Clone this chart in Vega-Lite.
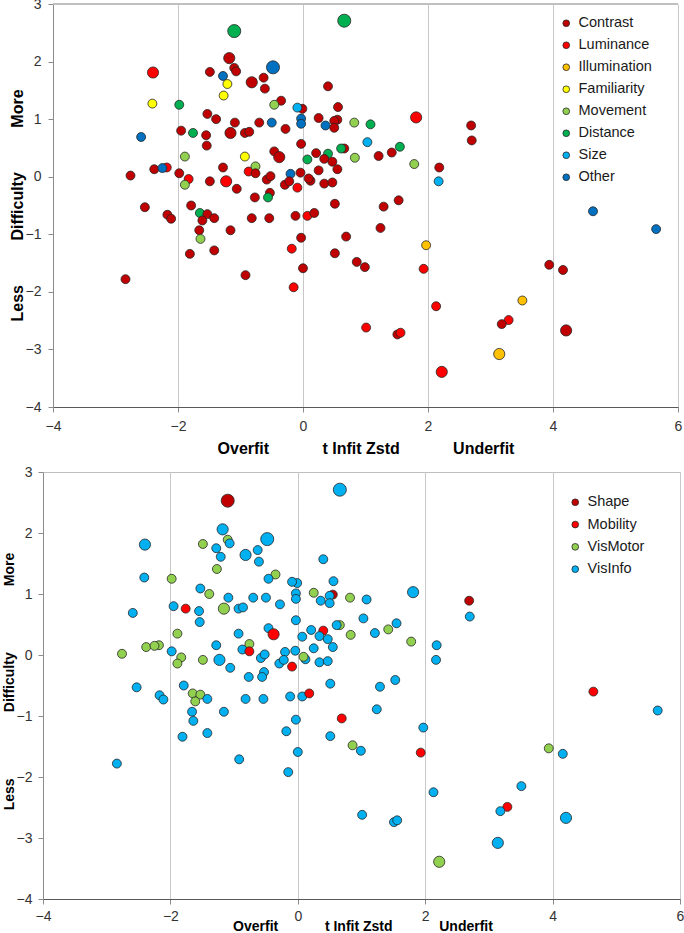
{
  "$schema": "https://vega.github.io/schema/vega-lite/v6.json",
  "padding": {"left": 1, "top": -3, "right": 0, "bottom": 0},
  "spacing": 8,
  "config": {
    "font": "Liberation Sans",
    "view": {"stroke": "#bfbfbf", "strokeWidth": 1},
    "axis": {"labelColor": "#333333", "titleColor": "#000000", "tickColor": "#8c8c8c", "domainColor": "#8c8c8c", "labelFont": "Liberation Sans", "titleFont": "Liberation Sans"}
  },
  "data": {"values": [
    {"infit": -1.10, "difficulty": 2.53, "weight": 3, "cat1": "Distance", "cat2": "Shape"},
    {"infit": 0.66, "difficulty": 2.71, "weight": 3, "cat1": "Distance", "cat2": "VisInfo"},
    {"infit": -2.40, "difficulty": 1.81, "weight": 2, "cat1": "Luminance", "cat2": "VisInfo"},
    {"infit": -1.18, "difficulty": 2.06, "weight": 2, "cat1": "Contrast", "cat2": "VisInfo"},
    {"infit": -1.10, "difficulty": 1.89, "weight": 1, "cat1": "Contrast", "cat2": "VisMotor"},
    {"infit": -1.07, "difficulty": 1.83, "weight": 1, "cat1": "Contrast", "cat2": "VisInfo"},
    {"infit": -1.49, "difficulty": 1.82, "weight": 1, "cat1": "Contrast", "cat2": "VisMotor"},
    {"infit": -1.28, "difficulty": 1.75, "weight": 1, "cat1": "Other", "cat2": "VisInfo"},
    {"infit": -1.21, "difficulty": 1.61, "weight": 1, "cat1": "Familiarity", "cat2": "VisInfo"},
    {"infit": -1.27, "difficulty": 1.41, "weight": 1, "cat1": "Familiarity", "cat2": "VisMotor"},
    {"infit": -2.41, "difficulty": 1.27, "weight": 1, "cat1": "Familiarity", "cat2": "VisInfo"},
    {"infit": -1.98, "difficulty": 1.25, "weight": 1, "cat1": "Distance", "cat2": "VisMotor"},
    {"infit": -0.48, "difficulty": 1.90, "weight": 3, "cat1": "Other", "cat2": "VisInfo"},
    {"infit": -0.82, "difficulty": 1.64, "weight": 2, "cat1": "Contrast", "cat2": "VisInfo"},
    {"infit": -0.63, "difficulty": 1.72, "weight": 1, "cat1": "Contrast", "cat2": "VisInfo"},
    {"infit": -0.61, "difficulty": 1.53, "weight": 1, "cat1": "Contrast", "cat2": "VisInfo"},
    {"infit": -0.35, "difficulty": 1.32, "weight": 1, "cat1": "Contrast", "cat2": "VisMotor"},
    {"infit": -0.46, "difficulty": 1.25, "weight": 1, "cat1": "Movement", "cat2": "VisInfo"},
    {"infit": -0.01, "difficulty": 1.18, "weight": 1, "cat1": "Contrast", "cat2": "VisInfo"},
    {"infit": -0.09, "difficulty": 1.20, "weight": 1, "cat1": "Size", "cat2": "VisInfo"},
    {"infit": -0.03, "difficulty": 1.01, "weight": 1, "cat1": "Other", "cat2": "VisInfo"},
    {"infit": -0.03, "difficulty": 0.92, "weight": 1, "cat1": "Other", "cat2": "VisInfo"},
    {"infit": 0.40, "difficulty": 1.57, "weight": 1, "cat1": "Contrast", "cat2": "VisInfo"},
    {"infit": 0.25, "difficulty": 1.02, "weight": 1, "cat1": "Contrast", "cat2": "VisMotor"},
    {"infit": 0.56, "difficulty": 1.21, "weight": 1, "cat1": "Contrast", "cat2": "VisInfo"},
    {"infit": 0.55, "difficulty": 0.99, "weight": 1, "cat1": "Contrast", "cat2": "Shape"},
    {"infit": 0.50, "difficulty": 0.97, "weight": 1, "cat1": "Contrast", "cat2": "VisInfo"},
    {"infit": 0.36, "difficulty": 0.89, "weight": 1, "cat1": "Other", "cat2": "VisInfo"},
    {"infit": 0.50, "difficulty": 0.85, "weight": 1, "cat1": "Contrast", "cat2": "VisInfo"},
    {"infit": -1.53, "difficulty": 1.09, "weight": 1, "cat1": "Contrast", "cat2": "VisInfo"},
    {"infit": -1.39, "difficulty": 1.00, "weight": 1, "cat1": "Contrast", "cat2": "VisMotor"},
    {"infit": -1.09, "difficulty": 0.94, "weight": 1, "cat1": "Contrast", "cat2": "VisInfo"},
    {"infit": -1.16, "difficulty": 0.76, "weight": 2, "cat1": "Contrast", "cat2": "VisMotor"},
    {"infit": -0.93, "difficulty": 0.76, "weight": 1, "cat1": "Contrast", "cat2": "VisInfo"},
    {"infit": -0.86, "difficulty": 0.78, "weight": 1, "cat1": "Contrast", "cat2": "VisInfo"},
    {"infit": -0.70, "difficulty": 0.94, "weight": 1, "cat1": "Contrast", "cat2": "VisInfo"},
    {"infit": -0.50, "difficulty": 0.94, "weight": 1, "cat1": "Other", "cat2": "VisInfo"},
    {"infit": -0.28, "difficulty": 0.83, "weight": 1, "cat1": "Contrast", "cat2": "VisInfo"},
    {"infit": -2.59, "difficulty": 0.69, "weight": 1, "cat1": "Other", "cat2": "VisInfo"},
    {"infit": -1.95, "difficulty": 0.80, "weight": 1, "cat1": "Contrast", "cat2": "VisInfo"},
    {"infit": -1.76, "difficulty": 0.76, "weight": 1, "cat1": "Distance", "cat2": "Mobility"},
    {"infit": -1.55, "difficulty": 0.72, "weight": 1, "cat1": "Contrast", "cat2": "VisInfo"},
    {"infit": -1.54, "difficulty": 0.54, "weight": 1, "cat1": "Contrast", "cat2": "VisInfo"},
    {"infit": -0.03, "difficulty": 0.57, "weight": 1, "cat1": "Contrast", "cat2": "VisInfo"},
    {"infit": -1.89, "difficulty": 0.35, "weight": 1, "cat1": "Movement", "cat2": "VisMotor"},
    {"infit": -0.93, "difficulty": 0.35, "weight": 1, "cat1": "Familiarity", "cat2": "VisInfo"},
    {"infit": -0.46, "difficulty": 0.44, "weight": 1, "cat1": "Contrast", "cat2": "VisInfo"},
    {"infit": -0.38, "difficulty": 0.34, "weight": 2, "cat1": "Contrast", "cat2": "Mobility"},
    {"infit": 0.07, "difficulty": 0.30, "weight": 1, "cat1": "Distance", "cat2": "VisInfo"},
    {"infit": 0.21, "difficulty": 0.41, "weight": 1, "cat1": "Contrast", "cat2": "VisInfo"},
    {"infit": 0.40, "difficulty": 0.40, "weight": 1, "cat1": "Distance", "cat2": "Mobility"},
    {"infit": 0.34, "difficulty": 0.31, "weight": 1, "cat1": "Contrast", "cat2": "VisInfo"},
    {"infit": 0.47, "difficulty": 0.26, "weight": 1, "cat1": "Contrast", "cat2": "VisInfo"},
    {"infit": 0.66, "difficulty": 0.49, "weight": 1, "cat1": "Contrast", "cat2": "VisMotor"},
    {"infit": 0.61, "difficulty": 0.49, "weight": 1, "cat1": "Distance", "cat2": "VisInfo"},
    {"infit": -2.38, "difficulty": 0.13, "weight": 1, "cat1": "Contrast", "cat2": "VisMotor"},
    {"infit": -2.18, "difficulty": 0.16, "weight": 1, "cat1": "Luminance", "cat2": "VisMotor"},
    {"infit": -2.25, "difficulty": 0.15, "weight": 1, "cat1": "Other", "cat2": "VisMotor"},
    {"infit": -2.76, "difficulty": 0.02, "weight": 1, "cat1": "Contrast", "cat2": "VisMotor"},
    {"infit": -1.98, "difficulty": 0.06, "weight": 1, "cat1": "Contrast", "cat2": "VisInfo"},
    {"infit": -1.83, "difficulty": -0.04, "weight": 1, "cat1": "Luminance", "cat2": "VisMotor"},
    {"infit": -1.89, "difficulty": -0.14, "weight": 1, "cat1": "Movement", "cat2": "VisMotor"},
    {"infit": -1.49, "difficulty": -0.08, "weight": 1, "cat1": "Contrast", "cat2": "VisMotor"},
    {"infit": -1.28, "difficulty": 0.16, "weight": 1, "cat1": "Contrast", "cat2": "VisInfo"},
    {"infit": -1.23, "difficulty": -0.08, "weight": 2, "cat1": "Luminance", "cat2": "VisInfo"},
    {"infit": -1.06, "difficulty": -0.21, "weight": 1, "cat1": "Contrast", "cat2": "VisInfo"},
    {"infit": -0.87, "difficulty": 0.09, "weight": 1, "cat1": "Luminance", "cat2": "VisInfo"},
    {"infit": -0.76, "difficulty": 0.18, "weight": 1, "cat1": "Movement", "cat2": "VisMotor"},
    {"infit": -0.76, "difficulty": 0.06, "weight": 1, "cat1": "Contrast", "cat2": "Mobility"},
    {"infit": -0.58, "difficulty": -0.05, "weight": 1, "cat1": "Contrast", "cat2": "VisInfo"},
    {"infit": -0.52, "difficulty": 0.01, "weight": 1, "cat1": "Contrast", "cat2": "VisInfo"},
    {"infit": -0.77, "difficulty": -0.36, "weight": 1, "cat1": "Contrast", "cat2": "VisInfo"},
    {"infit": -0.53, "difficulty": -0.28, "weight": 1, "cat1": "Contrast", "cat2": "VisInfo"},
    {"infit": -0.56, "difficulty": -0.36, "weight": 1, "cat1": "Distance", "cat2": "VisInfo"},
    {"infit": -0.20, "difficulty": 0.05, "weight": 1, "cat1": "Other", "cat2": "VisInfo"},
    {"infit": -0.29, "difficulty": -0.14, "weight": 1, "cat1": "Contrast", "cat2": "VisInfo"},
    {"infit": -0.22, "difficulty": -0.08, "weight": 1, "cat1": "Contrast", "cat2": "VisInfo"},
    {"infit": -0.09, "difficulty": -0.19, "weight": 1, "cat1": "Luminance", "cat2": "Mobility"},
    {"infit": -0.04, "difficulty": 0.07, "weight": 1, "cat1": "Contrast", "cat2": "VisInfo"},
    {"infit": 0.12, "difficulty": -0.07, "weight": 1, "cat1": "Contrast", "cat2": "VisInfo"},
    {"infit": 0.09, "difficulty": -0.03, "weight": 1, "cat1": "Contrast", "cat2": "VisMotor"},
    {"infit": 0.25, "difficulty": 0.11, "weight": 1, "cat1": "Contrast", "cat2": "VisInfo"},
    {"infit": 0.34, "difficulty": -0.12, "weight": 1, "cat1": "Contrast", "cat2": "VisInfo"},
    {"infit": 0.47, "difficulty": -0.10, "weight": 1, "cat1": "Contrast", "cat2": "VisInfo"},
    {"infit": 0.55, "difficulty": 0.13, "weight": 1, "cat1": "Contrast", "cat2": "VisInfo"},
    {"infit": 0.51, "difficulty": -0.47, "weight": 1, "cat1": "Contrast", "cat2": "VisInfo"},
    {"infit": -2.53, "difficulty": -0.53, "weight": 1, "cat1": "Contrast", "cat2": "VisInfo"},
    {"infit": -2.17, "difficulty": -0.66, "weight": 1, "cat1": "Contrast", "cat2": "VisInfo"},
    {"infit": -2.11, "difficulty": -0.73, "weight": 1, "cat1": "Contrast", "cat2": "VisInfo"},
    {"infit": -1.79, "difficulty": -0.50, "weight": 1, "cat1": "Contrast", "cat2": "VisInfo"},
    {"infit": -1.65, "difficulty": -0.63, "weight": 1, "cat1": "Distance", "cat2": "VisMotor"},
    {"infit": -1.53, "difficulty": -0.65, "weight": 1, "cat1": "Contrast", "cat2": "VisMotor"},
    {"infit": -1.42, "difficulty": -0.72, "weight": 1, "cat1": "Contrast", "cat2": "VisInfo"},
    {"infit": -1.61, "difficulty": -0.76, "weight": 1, "cat1": "Contrast", "cat2": "VisMotor"},
    {"infit": -1.16, "difficulty": -0.93, "weight": 1, "cat1": "Contrast", "cat2": "VisInfo"},
    {"infit": -0.82, "difficulty": -0.72, "weight": 1, "cat1": "Contrast", "cat2": "VisInfo"},
    {"infit": -0.54, "difficulty": -0.72, "weight": 1, "cat1": "Contrast", "cat2": "VisInfo"},
    {"infit": -0.12, "difficulty": -0.68, "weight": 1, "cat1": "Contrast", "cat2": "VisInfo"},
    {"infit": 0.07, "difficulty": -0.68, "weight": 1, "cat1": "Luminance", "cat2": "VisInfo"},
    {"infit": 0.18, "difficulty": -0.63, "weight": 1, "cat1": "Contrast", "cat2": "Mobility"},
    {"infit": -1.66, "difficulty": -0.93, "weight": 1, "cat1": "Contrast", "cat2": "VisInfo"},
    {"infit": -1.64, "difficulty": -1.08, "weight": 1, "cat1": "Movement", "cat2": "VisInfo"},
    {"infit": -0.03, "difficulty": -1.06, "weight": 1, "cat1": "Contrast", "cat2": "VisInfo"},
    {"infit": -1.81, "difficulty": -1.34, "weight": 1, "cat1": "Contrast", "cat2": "VisInfo"},
    {"infit": -1.42, "difficulty": -1.28, "weight": 1, "cat1": "Contrast", "cat2": "VisInfo"},
    {"infit": -2.84, "difficulty": -1.78, "weight": 1, "cat1": "Contrast", "cat2": "VisInfo"},
    {"infit": -0.92, "difficulty": -1.71, "weight": 1, "cat1": "Contrast", "cat2": "VisInfo"},
    {"infit": -0.18, "difficulty": -1.25, "weight": 1, "cat1": "Luminance", "cat2": "VisInfo"},
    {"infit": 0.00, "difficulty": -1.59, "weight": 1, "cat1": "Contrast", "cat2": "VisInfo"},
    {"infit": -0.15, "difficulty": -1.92, "weight": 1, "cat1": "Luminance", "cat2": "VisInfo"},
    {"infit": 0.51, "difficulty": -1.33, "weight": 1, "cat1": "Contrast", "cat2": "VisInfo"},
    {"infit": 0.69, "difficulty": -1.04, "weight": 1, "cat1": "Contrast", "cat2": "Mobility"},
    {"infit": 1.24, "difficulty": -0.89, "weight": 1, "cat1": "Contrast", "cat2": "VisInfo"},
    {"infit": 1.97, "difficulty": -1.19, "weight": 1, "cat1": "Illumination", "cat2": "VisInfo"},
    {"infit": 0.86, "difficulty": -1.48, "weight": 1, "cat1": "Contrast", "cat2": "VisMotor"},
    {"infit": 0.99, "difficulty": -1.57, "weight": 1, "cat1": "Contrast", "cat2": "VisInfo"},
    {"infit": 1.93, "difficulty": -1.60, "weight": 1, "cat1": "Luminance", "cat2": "Mobility"},
    {"infit": 3.94, "difficulty": -1.53, "weight": 1, "cat1": "Contrast", "cat2": "VisMotor"},
    {"infit": 4.16, "difficulty": -1.62, "weight": 1, "cat1": "Contrast", "cat2": "VisInfo"},
    {"infit": 5.65, "difficulty": -0.91, "weight": 1, "cat1": "Other", "cat2": "VisInfo"},
    {"infit": 2.13, "difficulty": -2.25, "weight": 1, "cat1": "Luminance", "cat2": "VisInfo"},
    {"infit": 3.51, "difficulty": -2.15, "weight": 1, "cat1": "Illumination", "cat2": "VisInfo"},
    {"infit": 1.01, "difficulty": -2.62, "weight": 1, "cat1": "Luminance", "cat2": "VisInfo"},
    {"infit": 1.51, "difficulty": -2.74, "weight": 1, "cat1": "Contrast", "cat2": "VisInfo"},
    {"infit": 1.56, "difficulty": -2.71, "weight": 1, "cat1": "Luminance", "cat2": "VisInfo"},
    {"infit": 3.29, "difficulty": -2.49, "weight": 1, "cat1": "Luminance", "cat2": "Mobility"},
    {"infit": 3.18, "difficulty": -2.56, "weight": 1, "cat1": "Contrast", "cat2": "VisInfo"},
    {"infit": 4.21, "difficulty": -2.67, "weight": 2, "cat1": "Contrast", "cat2": "VisInfo"},
    {"infit": 3.14, "difficulty": -3.08, "weight": 2, "cat1": "Illumination", "cat2": "VisInfo"},
    {"infit": 2.22, "difficulty": -3.39, "weight": 2, "cat1": "Luminance", "cat2": "VisMotor"},
    {"infit": 1.81, "difficulty": 1.03, "weight": 2, "cat1": "Luminance", "cat2": "VisInfo"},
    {"infit": 0.82, "difficulty": 0.94, "weight": 1, "cat1": "Movement", "cat2": "VisMotor"},
    {"infit": 1.08, "difficulty": 0.91, "weight": 1, "cat1": "Distance", "cat2": "VisInfo"},
    {"infit": 1.03, "difficulty": 0.60, "weight": 1, "cat1": "Size", "cat2": "VisInfo"},
    {"infit": 0.83, "difficulty": 0.33, "weight": 1, "cat1": "Movement", "cat2": "VisMotor"},
    {"infit": 1.21, "difficulty": 0.36, "weight": 1, "cat1": "Contrast", "cat2": "VisInfo"},
    {"infit": 1.42, "difficulty": 0.42, "weight": 1, "cat1": "Contrast", "cat2": "VisMotor"},
    {"infit": 1.55, "difficulty": 0.52, "weight": 1, "cat1": "Distance", "cat2": "VisInfo"},
    {"infit": 1.78, "difficulty": 0.22, "weight": 1, "cat1": "Movement", "cat2": "VisMotor"},
    {"infit": 2.69, "difficulty": 0.89, "weight": 1, "cat1": "Contrast", "cat2": "Shape"},
    {"infit": 2.70, "difficulty": 0.63, "weight": 1, "cat1": "Contrast", "cat2": "VisInfo"},
    {"infit": 2.18, "difficulty": 0.16, "weight": 1, "cat1": "Contrast", "cat2": "VisInfo"},
    {"infit": 2.17, "difficulty": -0.08, "weight": 1, "cat1": "Size", "cat2": "VisInfo"},
    {"infit": 1.29, "difficulty": -0.52, "weight": 1, "cat1": "Contrast", "cat2": "VisInfo"},
    {"infit": 1.53, "difficulty": -0.41, "weight": 1, "cat1": "Contrast", "cat2": "VisInfo"},
    {"infit": 4.64, "difficulty": -0.60, "weight": 1, "cat1": "Other", "cat2": "Mobility"}
  ]},
  "resolve": {
    "scale": {"x": "independent", "y": "independent", "color": "independent", "size": "independent"},
    "axis": {"x": "independent", "y": "independent"},
    "legend": {"color": "independent", "size": "independent"}
  },
  "vconcat": [
    {
      "width": 636,
      "height": 403,
      "view": {"stroke": null},
      "layer": [
        {
          "mark": {"type": "rule", "color": "#bfbfbf", "strokeWidth": 1},
          "encoding": {
            "x": {"datum": -4, "type": "quantitative"},
            "x2": {"datum": 6},
            "y": {"datum": 3, "type": "quantitative"}
          }
        },
        {
          "mark": {"type": "circle", "opacity": 1, "stroke": "#262626", "strokeWidth": 0.8},
          "encoding": {
            "x": {
              "field": "infit", "type": "quantitative",
              "scale": {"domain": [-4, 6], "range": [10, 635], "nice": false, "zero": false},
              "axis": {
                "values": [-4, -2, 0, 2, 4, 6], "format": "d", "grid": true, "gridColor": "#c8c8c8",
                "domainColor": "#595959", "labelFlush": false, "labelOverlap": false,
                "labelFontSize": 14, "tickSize": 5, "labelPadding": 7,
                "title": "Overfit\u00a0\u00a0\u00a0\u00a0\u00a0\u00a0\u00a0\u00a0\u00a0\u00a0\u00a0\u00a0t Infit Zstd\u00a0\u00a0\u00a0\u00a0\u00a0\u00a0\u00a0\u00a0\u00a0\u00a0\u00a0\u00a0Underfit",
                "titleFontSize": 16, "titleFontWeight": "bold", "titleX": 322.5, "titleY": 46,
                "titleBaseline": "alphabetic", "titleAlign": "center"
              }
            },
            "y": {
              "field": "difficulty", "type": "quantitative",
              "scale": {"domain": [-4, 3], "nice": false, "zero": false},
              "axis": {
                "values": [-4, -3, -2, -1, 0, 1, 2, 3], "format": "d", "grid": false, "offset": -10,
                "labelFontSize": 14, "tickSize": 5, "labelPadding": 7,
                "title": "Less\u00a0\u00a0\u00a0\u00a0\u00a0\u00a0\u00a0\u00a0\u00a0\u00a0Difficulty\u00a0\u00a0\u00a0\u00a0\u00a0\u00a0\u00a0\u00a0\u00a0\u00a0More",
                "titleFontSize": 16, "titleFontWeight": "bold", "titleX": -31, "titleY": 201,
                "titleBaseline": "alphabetic", "titleAlign": "center", "titleAngle": -90
              }
            },
            "color": {
              "field": "cat1", "type": "nominal",
              "scale": {
                "domain": ["Contrast", "Luminance", "Illumination", "Familiarity", "Movement", "Distance", "Size", "Other"],
                "range": ["#C00000", "#FF0000", "#FFC000", "#FFFF00", "#92D050", "#00B050", "#00B0F0", "#0070C0"]
              },
              "legend": {
                "orient": "none", "legendX": 516, "legendY": 12, "title": null, "padding": 0,
                "labelFontSize": 14.5, "labelColor": "#1a1a1a", "labelOffset": 5,
                "symbolType": "circle", "symbolSize": 45, "symbolStrokeColor": "#262626", "symbolStrokeWidth": 0.8,
                "rowPadding": 7
              }
            },
            "size": {
              "field": "weight", "type": "quantitative",
              "scale": {"domain": [1, 3], "range": [80, 170]},
              "legend": null
            }
          }
        }
      ]
    },
    {
      "width": 637,
      "height": 427,
      "mark": {"type": "circle", "opacity": 1, "stroke": "#262626", "strokeWidth": 0.8},
      "encoding": {
        "x": {
          "field": "infit", "type": "quantitative",
          "scale": {"domain": [-4, 6], "nice": false, "zero": false},
          "axis": {
            "values": [-4, -2, 0, 2, 4, 6], "format": "d", "grid": true, "gridColor": "#c8c8c8",
            "domainColor": "#595959", "labelFlush": false, "labelOverlap": false,
            "labelFontSize": 14, "tickSize": 5, "labelPadding": 5,
            "title": "Overfit\u00a0\u00a0\u00a0\u00a0\u00a0\u00a0\u00a0\u00a0\u00a0\u00a0\u00a0\u00a0t Infit Zstd\u00a0\u00a0\u00a0\u00a0\u00a0\u00a0\u00a0\u00a0\u00a0\u00a0\u00a0\u00a0Underfit",
            "titleFontSize": 14, "titleFontWeight": "bold", "titleX": 319.5, "titleY": 31,
            "titleBaseline": "alphabetic", "titleAlign": "center"
          }
        },
        "y": {
          "field": "difficulty", "type": "quantitative",
          "scale": {"domain": [-4, 3], "nice": false, "zero": false},
          "axis": {
            "values": [-4, -3, -2, -1, 0, 1, 2, 3], "format": "d", "grid": false,
            "labelFontSize": 14, "tickSize": 5, "labelPadding": 6,
            "title": "Less\u00a0\u00a0\u00a0\u00a0\u00a0\u00a0\u00a0\u00a0\u00a0\u00a0\u00a0\u00a0\u00a0\u00a0\u00a0\u00a0\u00a0Difficulty\u00a0\u00a0\u00a0\u00a0\u00a0\u00a0\u00a0\u00a0\u00a0\u00a0\u00a0\u00a0\u00a0\u00a0\u00a0\u00a0\u00a0More",
            "titleFontSize": 14, "titleFontWeight": "bold", "titleX": -30, "titleY": 209,
            "titleBaseline": "alphabetic", "titleAlign": "center", "titleAngle": -90
          }
        },
        "color": {
          "field": "cat2", "type": "nominal",
          "scale": {
            "domain": ["Shape", "Mobility", "VisMotor", "VisInfo"],
            "range": ["#C00000", "#FF0000", "#92D050", "#00B0F0"]
          },
          "legend": {
            "orient": "none", "legendX": 525, "legendY": 23, "title": null, "padding": 0,
            "labelFontSize": 14.5, "labelColor": "#1a1a1a", "labelOffset": 5,
            "symbolType": "circle", "symbolSize": 45, "symbolStrokeColor": "#262626", "symbolStrokeWidth": 0.8,
            "rowPadding": 7.3
          }
        },
        "size": {
          "field": "weight", "type": "quantitative",
          "scale": {"domain": [1, 3], "range": [80, 170]},
          "legend": null
        }
      }
    }
  ]
}
